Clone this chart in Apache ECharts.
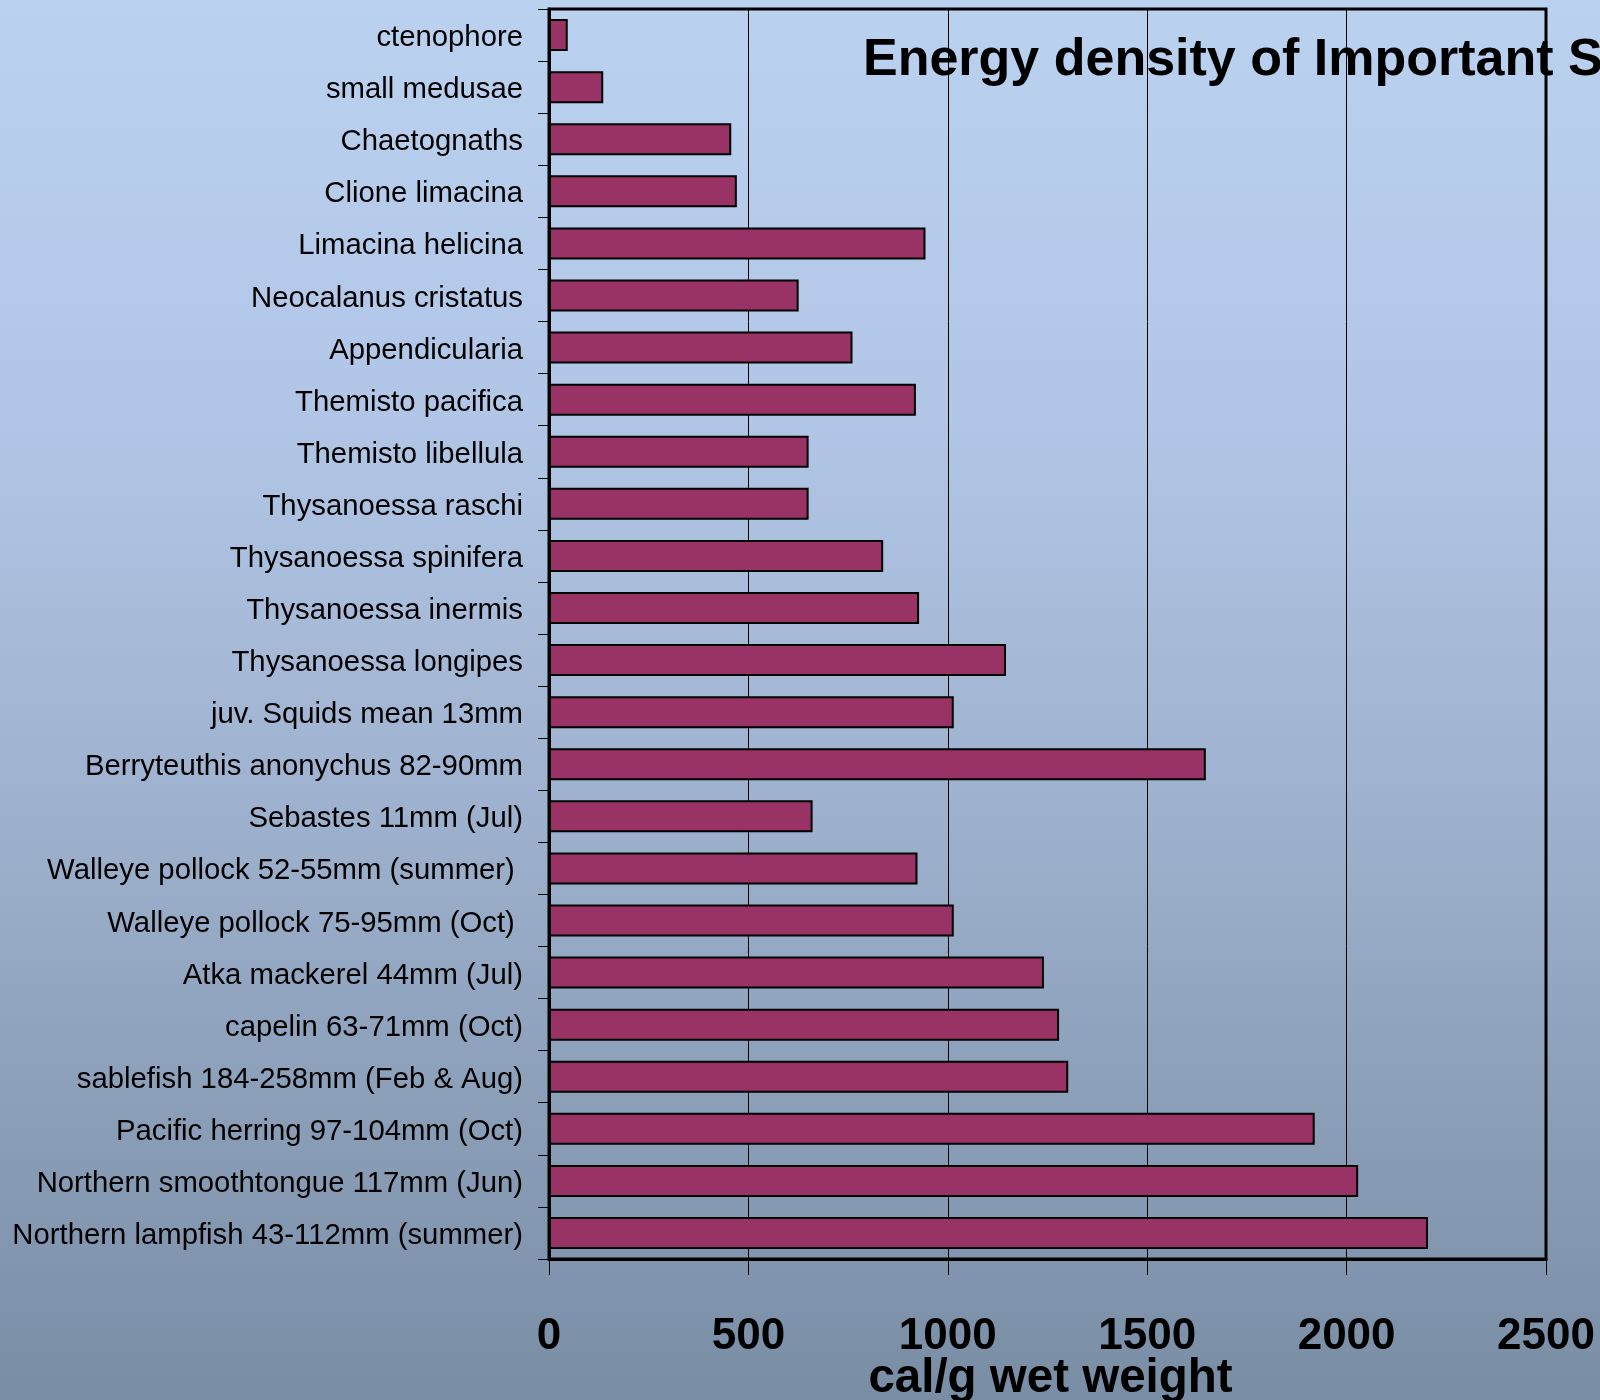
<!DOCTYPE html>
<html>
<head>
<meta charset="utf-8">
<script src="https://cdn.jsdelivr.net/npm/echarts@6/dist/echarts.min.js"></script>
<style>
html,body{margin:0;padding:0;width:1600px;height:1400px;overflow:hidden;}
#chart{width:1600px;height:1400px;}
</style>
</head>
<body>
<div id="chart"></div>
<script>
const categories = [
  "ctenophore",
  "small medusae",
  "Chaetognaths",
  "Clione limacina",
  "Limacina helicina",
  "Neocalanus cristatus",
  "Appendicularia",
  "Themisto pacifica",
  "Themisto libellula",
  "Thysanoessa raschi",
  "Thysanoessa spinifera",
  "Thysanoessa inermis",
  "Thysanoessa longipes",
  "juv. Squids mean 13mm",
  "Berryteuthis anonychus 82-90mm",
  "Sebastes 11mm (Jul)",
  "Walleye pollock 52-55mm (summer) ",
  "Walleye pollock 75-95mm (Oct) ",
  "Atka mackerel 44mm (Jul)",
  "capelin 63-71mm (Oct)",
  "sablefish 184-258mm (Feb & Aug)",
  "Pacific herring 97-104mm (Oct)",
  "Northern smoothtongue 117mm (Jun)",
  "Northern lampfish 43-112mm (summer)"
];
const energyValues = [
  47, 136, 457, 471, 944, 626, 761, 920, 651, 651, 838, 928,
  1146, 1015, 1647, 661, 924, 1015, 1241, 1279, 1302, 1920, 2029, 2204
];
const xTicks = [0, 500, 1000, 1500, 2000, 2500];
const titleText = "Energy density of Important Species";
const xAxisName = "cal/g wet weight";

const FONT = '"Liberation Sans", Arial, Helvetica, sans-serif';
const chart = echarts.init(document.getElementById('chart'), null, {renderer: 'canvas'});

chart.setOption({
  animation: false,
  backgroundColor: new echarts.graphic.LinearGradient(0, 0, 0, 1, [
    {offset: 0, color: '#bbd1f0'},
    {offset: 0.3, color: '#b1c6e6'},
    {offset: 0.55, color: '#a0b3d0'},
    {offset: 0.8, color: '#8b9eb8'},
    {offset: 1, color: '#798da5'}
  ]),
  title: {
    text: titleText,
    left: 863,
    top: 35,
    padding: 0,
    textStyle: {
      fontFamily: FONT,
      fontWeight: 'bold',
      fontSize: 52,
      lineHeight: 52,
      color: '#000'
    }
  },
  grid: {
    left: 549,
    right: 54,
    top: 9,
    bottom: 141,
    show: true,
    borderColor: '#000',
    borderWidth: 3,
    backgroundColor: 'transparent',
    containLabel: false,
    outerBoundsMode: 'none'
  },
  xAxis: {
    type: 'value',
    min: xTicks[0],
    max: xTicks[xTicks.length - 1],
    interval: 500,
    name: xAxisName,
    nameLocation: 'middle',
    nameGap: 96,
    nameMoveOverlap: false,
    nameTextStyle: {
      fontFamily: FONT,
      fontWeight: 'bold',
      fontSize: 47.5,
      lineHeight: 47,
      color: '#000',
      padding: [0, 0, 0, 6]
    },
    axisLine: {show: true, lineStyle: {color: '#000', width: 3}},
    axisTick: {show: true, length: 16, inside: false, lineStyle: {color: '#000', width: 1}},
    splitLine: {show: true, lineStyle: {color: '#000', width: 1}},
    axisLabel: {
      fontFamily: FONT,
      fontWeight: 'bold',
      fontSize: 44,
      lineHeight: 44,
      color: '#000',
      margin: 56,
      showMinLabel: true,
      showMaxLabel: true,
      formatter: function (v) { return String(v); }
    }
  },
  yAxis: {
    type: 'category',
    data: categories,
    inverse: true,
    axisLine: {show: true, lineStyle: {color: '#000', width: 3}},
    axisTick: {show: true, length: 11, inside: false, alignWithLabel: false, lineStyle: {color: '#000', width: 1}},
    splitLine: {show: false},
    axisLabel: {
      fontFamily: FONT,
      fontSize: 29.3,
      color: '#000',
      margin: 26,
      interval: 0,
      verticalAlign: 'top',
      lineHeight: 6
    }
  },
  series: [{
    type: 'bar',
    data: energyValues,
    barWidth: 32,
    itemStyle: {
      color: '#993366',
      borderColor: '#000',
      borderWidth: 2
    }
  }]
});
</script>
</body>
</html>
